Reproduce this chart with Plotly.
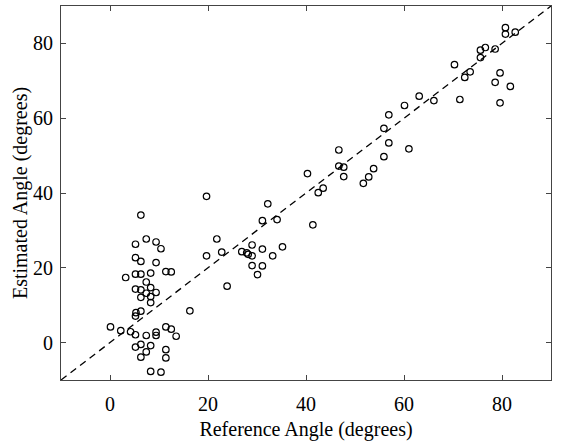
import plotly.graph_objects as go

# Reference angle (x) and estimated angle (y), degrees
ref_left = [6.3, 7.4, 9.4, 5.2, 10.4, 5.2, 6.3, 9.4, 3.2, 5.2, 6.3, 8.3, 11.4, 12.5, 7.4, 5.2,
            6.3, 8.3, 7.4, 9.4, 6.3, 8.3, 8.3, 16.3, 6.3, 5.3, 5.2, 0.1, 2.2, 4.2, 5.2, 7.4,
            9.4, 9.4, 11.4, 12.5, 13.5, 6.3, 5.2, 8.3, 7.4, 11.4, 6.3, 11.4, 8.3, 10.4]
est_left = [34.1, 27.7, 26.9, 26.3, 25.1, 22.7, 21.7, 21.4, 17.4, 18.3, 18.3, 18.6, 19.0, 18.9, 16.2, 14.3,
            14.1, 14.7, 13.2, 13.4, 12.1, 12.3, 10.7, 8.5, 8.4, 8.0, 7.1, 4.2, 3.2, 2.9, 2.1, 1.9,
            2.8, 1.9, 4.2, 3.6, 1.7, -0.5, -1.2, -0.8, -2.5, -1.9, -3.9, -4.1, -7.7, -7.9]

ref_mid = [19.7, 32.2, 31.1, 34.1, 41.4, 21.8, 22.8, 19.7, 26.9, 27.9, 28.2, 29.0, 29.0, 31.1,
           35.2, 33.2, 29.0, 31.1, 30.1, 23.9]
est_mid = [39.1, 37.1, 32.6, 32.9, 31.5, 27.7, 24.2, 23.2, 24.3, 24.0, 23.6, 26.1, 23.2, 25.0,
           25.6, 23.2, 20.6, 20.5, 18.2, 15.1]

ref_up = [46.7, 46.7, 47.7, 47.7, 40.3, 43.5, 42.5, 63.1, 60.1, 66.1, 56.9, 55.9, 56.9, 61.0,
          55.9, 53.8, 52.8, 51.7]
est_up = [51.5, 47.2, 46.9, 44.4, 45.2, 41.3, 40.1, 65.9, 63.4, 64.7, 60.9, 57.3, 53.4, 51.8,
          49.7, 46.5, 44.3, 42.6]

ref_top = [80.7, 80.7, 82.7, 75.6, 76.6, 78.6, 75.6, 70.3, 73.5, 72.4, 79.6, 78.6, 81.7, 71.4, 79.6]
est_top = [84.2, 82.5, 83.0, 78.2, 78.9, 78.5, 76.2, 74.3, 72.4, 70.9, 72.1, 69.6, 68.5, 65.0, 64.1]

ref_all = ref_left + ref_mid + ref_up + ref_top
est_all = est_left + est_mid + est_up + est_top

axis_range = [-10, 90]
tick_vals = [0, 20, 40, 60, 80]

fig = go.Figure()
fig.add_trace(go.Scatter(
    x=axis_range, y=axis_range, mode="lines",
    line=dict(color="black", width=1.3, dash="7px,5px"),
    showlegend=False, hoverinfo="skip"))
fig.add_trace(go.Scatter(
    x=ref_all, y=est_all, mode="markers",
    marker=dict(symbol="circle-open", size=6.5, color="black", line=dict(width=1.2, color="black")),
    showlegend=False))

font = dict(family="Liberation Serif", size=20, color="black")
axis_common = dict(
    range=axis_range, tickvals=tick_vals, showgrid=False, zeroline=False,
    showline=True, linecolor="#444", linewidth=1, mirror="ticks",
    ticks="inside", ticklen=5, tickcolor="#444", tickfont=font, automargin=False)

fig.update_layout(
    width=565, height=441,
    margin=dict(l=61, r=14, t=6, b=61),
    plot_bgcolor="white", paper_bgcolor="white",
    font=font,
    xaxis=dict(title=dict(text="Reference Angle (degrees)", font=font, standoff=10),
               ticklabelstandoff=6, **axis_common),
    yaxis=dict(title=dict(text="Estimated Angle (degrees)", font=font, standoff=0),
               ticklabelstandoff=3, **axis_common),
)

fig.write_html("out.html", config={"displayModeBar": False},
               post_script="document.body.style.margin='0px';")
